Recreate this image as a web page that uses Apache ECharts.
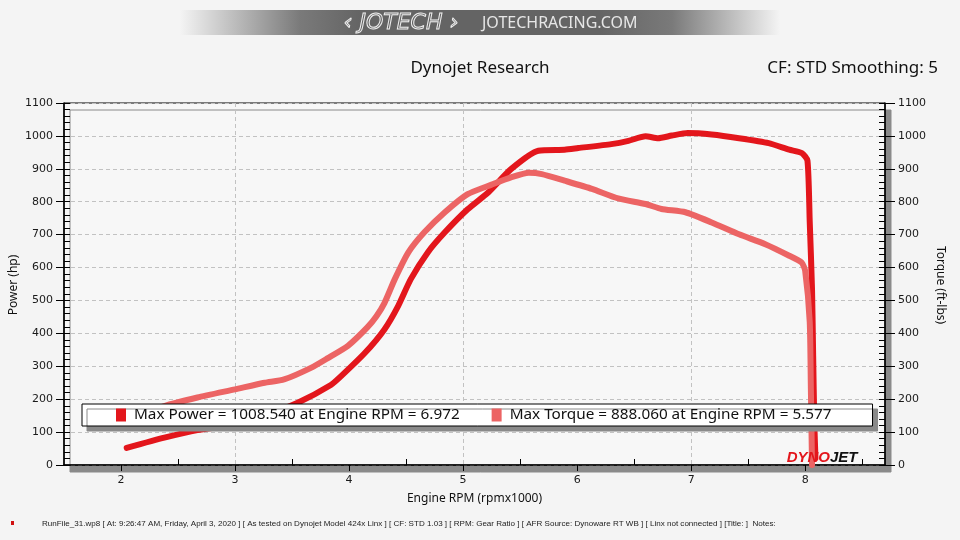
<!DOCTYPE html>
<html>
<head>
<meta charset="utf-8">
<script src="https://cdn.jsdelivr.net/npm/echarts@6/dist/echarts.min.js"></script>
<style>
html,body{margin:0;padding:0;background:#f4f4f4;}
#chart{width:960px;height:540px;}
</style>
</head>
<body>
<div id="chart"></div>
<script>
// ---- data ----
const powerRpm = [2.05, 2.38, 2.67, 3.0, 3.25, 3.55, 3.84, 3.93, 4.14, 4.31, 4.43, 4.54, 4.69, 4.84, 5.04, 5.22, 5.42, 5.66, 5.89, 6.01, 6.3, 6.45, 6.6, 6.71, 6.83, 6.97, 7.18, 7.42, 7.68, 7.86, 7.97, 8.02, 8.04, 8.06, 8.07, 8.08, 8.09];
const powerHp  = [52, 83, 106, 123, 149, 189, 243, 270, 341, 412, 483, 564, 646, 707, 777, 828, 899, 955, 958, 963, 975, 985, 999, 993, 1001, 1008.5, 1004, 993, 978, 958, 948, 925, 738, 534, 331, 129, 20];
const torqueRpm = [2.05, 2.38, 2.67, 3.0, 3.26, 3.43, 3.67, 3.81, 3.99, 4.16, 4.24, 4.31, 4.40, 4.52, 4.66, 4.84, 5.04, 5.25, 5.42, 5.577, 5.69, 5.89, 6.13, 6.36, 6.6, 6.74, 6.95, 7.18, 7.42, 7.65, 7.86, 7.97, 8.0, 8.04, 8.05, 8.06];
const torqueFt  = [135, 179, 205, 230, 250, 260, 296, 324, 362, 418, 452, 492, 564, 646, 707, 768, 823, 852, 874, 888, 884, 864, 839, 810, 793, 778, 768, 737, 701, 671, 636, 615, 590, 434, 230, 0];

const xLabelTicks = [2, 3, 4, 5, 6, 7, 8];
const xHalfTicks = [2.5, 3.5, 4.5, 5.5, 6.5, 7.5, 8.5];
const xMin = 1.5, xMax = 8.7;
const yMin = 0, yMax = 1100, yStep = 100, yMinorStep = 20;

const maxPower = '1008.540', maxPowerRpm = '6.972';
const maxTorque = '888.060', maxTorqueRpm = '5.577';
const titleText = 'Dynojet Research';
const cfText = 'CF: STD Smoothing: 5';
const xName = 'Engine RPM (rpmx1000)';
const yLeftName = 'Power (hp)';
const yRightName = 'Torque (ft-lbs)';
const bannerSite = 'JOTECHRACING.COM';
const footerText = 'RunFile_31.wp8 [ At: 9:26:47 AM, Friday, April 3, 2020 ] [ As tested on Dynojet Model 424x Linx ] [ CF: STD 1.03 ] [ RPM: Gear Ratio ] [ AFR Source: Dynoware RT WB ] [ Linx not connected ] [Title: ]  Notes:';

const zip = (a, b) => a.map((v, i) => [v, b[i]]);
const POWER_C = '#e3161c', TORQUE_C = '#ec6464';
const FONT = 'Noto Sans';

const legendNames = {
  'Power': 'Max Power = ' + maxPower + ' at Engine RPM = ' + maxPowerRpm,
  'Torque': 'Max Torque = ' + maxTorque + ' at Engine RPM = ' + maxTorqueRpm
};

const chart = echarts.init(document.getElementById('chart'));
const gridLine = {color: '#c2c2c2', type: [4, 3], width: 1};
const lbl = {color: '#1a1a1a', fontFamily: 'DejaVu Sans', fontSize: 11, formatter: v => String(v)};

chart.setOption({
  backgroundColor: '#f4f4f4',
  animation: false,
  title: [
    {text: titleText, left: 'center', top: 55, textStyle: {fontFamily: FONT, fontSize: 17, fontWeight: 'normal', color: '#111'}},
    {text: cfText, right: 17, top: 55, textStyle: {fontFamily: FONT, fontSize: 17, fontWeight: 'normal', color: '#111'}}
  ],
  grid: {
    left: 64, right: 75, top: 103, bottom: 75,
    outerBoundsMode: 'none', containLabel: false,
    show: true, backgroundColor: '#f7f7f7', borderColor: '#000', borderWidth: 1,
    shadowColor: '#8a8a8a', shadowBlur: 0, shadowOffsetX: 6, shadowOffsetY: 7
  },
  legend: {
    left: 82, top: 404,
    data: ['Power', 'Torque'],
    formatter: n => legendNames[n],
    icon: 'rect', itemWidth: 10, itemHeight: 13, itemGap: 32,
    padding: [2, 41, 2, 34],
    backgroundColor: '#ffffff', borderColor: '#000', borderWidth: 1,
    shadowColor: '#8a8a8a', shadowBlur: 0, shadowOffsetX: 5, shadowOffsetY: 5,
    textStyle: {fontFamily: FONT, fontSize: 15.3, color: '#111', lineHeight: 18, padding: [0, 0, 0, 3]},
    selectedMode: false, z: 10
  },
  xAxis: [
    {
      type: 'value', min: xMin, max: xMax, interval: 0.5, position: 'bottom',
      name: xName, nameLocation: 'middle', nameGap: 28,
      nameTextStyle: {fontFamily: FONT, fontSize: 12, color: '#111'},
      axisLine: {show: true, onZero: false, lineStyle: {color: '#000', width: 1.5}},
      axisTick: {show: true, customValues: xLabelTicks, length: 6, lineStyle: {color: '#000'}},
      axisLabel: Object.assign({}, lbl, {customValues: xLabelTicks, margin: 10, formatter: v => Number.isInteger(v) ? String(v) : ''}),
      splitLine: {show: true, lineStyle: Object.assign({}, gridLine, {color: ['rgba(0,0,0,0)', '#c2c2c2']})}
    },
    {
      type: 'value', min: xMin, max: xMax, interval: 0.5, position: 'bottom',
      axisLine: {show: false, onZero: false},
      axisTick: {show: true, inside: true, customValues: xHalfTicks, length: 6, lineStyle: {color: '#000'}},
      axisLabel: {show: false}, splitLine: {show: false}
    }
  ],
  yAxis: [
    {
      type: 'value', min: yMin, max: yMax, interval: yStep, position: 'left',
      axisLine: {show: true, lineStyle: {color: '#000', width: 1.5}},
      axisTick: {show: true, length: 8, lineStyle: {color: '#000'}},
      axisLabel: Object.assign({margin: 11}, lbl),
      splitLine: {show: true, lineStyle: gridLine}
    },
    {
      type: 'value', min: yMin, max: yMax, interval: yStep, position: 'right',
      axisLine: {show: true, lineStyle: {color: '#000', width: 1.5}},
      axisTick: {show: true, length: 10, lineStyle: {color: '#000'}},
      axisLabel: Object.assign({margin: 13}, lbl),
      splitLine: {show: false}
    },
    {
      type: 'value', min: yMin, max: yMax, interval: yMinorStep, position: 'left', offset: 0,
      axisLine: {show: false}, axisTick: {show: true, inside: true, length: 6, lineStyle: {color: '#000'}},
      axisLabel: {show: false}, splitLine: {show: false}
    },
    {
      type: 'value', min: yMin, max: yMax, interval: yMinorStep, position: 'right', offset: 0,
      axisLine: {show: false}, axisTick: {show: true, inside: true, length: 6, lineStyle: {color: '#000'}},
      axisLabel: {show: false}, splitLine: {show: false}
    }
  ],
  series: [
    {
      name: 'Power', type: 'line', xAxisIndex: 0, yAxisIndex: 0,
      data: zip(powerRpm, powerHp), symbol: 'none', smooth: 0.2, z: 3,
      color: POWER_C, lineStyle: {width: 6, color: POWER_C, cap: 'round', join: 'round'}
    },
    {
      name: 'Torque', type: 'line', xAxisIndex: 0, yAxisIndex: 1,
      data: zip(torqueRpm, torqueFt), symbol: 'none', smooth: 0.2, z: 4,
      color: TORQUE_C, lineStyle: {width: 6, color: TORQUE_C, cap: 'round', join: 'round'}
    }
  ],
  graphic: [
    {
      type: 'rect', shape: {x: 180, y: 10, width: 600, height: 25}, silent: true,
      style: {fill: {type: 'linear', x: 0, y: 0, x2: 1, y2: 0, colorStops: [
        {offset: 0, color: '#f4f4f4'}, {offset: 0.2, color: '#7a7a7a'}, {offset: 0.3, color: '#646464'},
        {offset: 0.7, color: '#646464'}, {offset: 0.82, color: '#7a7a7a'}, {offset: 1, color: '#f4f4f4'}]}}
    },
    {
      type: 'text', x: 401, y: 23, silent: true,
      style: {text: '‹ JOTECH ›', font: 'italic 22px "DejaVu Sans"', fill: 'rgba(0,0,0,0)', stroke: '#eeeeee', lineWidth: 1, align: 'center', verticalAlign: 'middle'}
    },
    {
      type: 'text', x: 482, y: 23, silent: true,
      style: {text: bannerSite, font: '16px "Noto Sans"', fill: '#e6e6e6', align: 'left', verticalAlign: 'middle'}
    },
    {
      type: 'text', x: 14, y: 285, rotation: Math.PI / 2, silent: true,
      style: {text: yLeftName, font: '12px "Noto Sans"', fill: '#111', align: 'center', verticalAlign: 'middle'}
    },
    {
      type: 'text', x: 940, y: 285, rotation: -Math.PI / 2, silent: true,
      style: {text: yRightName, font: '12px "Noto Sans"', fill: '#111', align: 'center', verticalAlign: 'middle'}
    },
    {
      type: 'text', x: 830, y: 458, silent: true, z: 5,
      style: {text: 'DYNO', font: 'italic 900 15px "Liberation Sans"', fill: POWER_C, align: 'right', verticalAlign: 'middle'}
    },
    {
      type: 'text', x: 830, y: 458, silent: true, z: 5,
      style: {text: 'JET', font: 'italic 900 15px "Liberation Sans"', fill: '#111', align: 'left', verticalAlign: 'middle'}
    },
    {
      type: 'rect', shape: {x: 11, y: 521, width: 3, height: 4}, silent: true, style: {fill: '#d01010'}
    },
    {
      type: 'text', x: 42, y: 524, silent: true,
      style: {text: footerText, font: '8.05px "Liberation Sans"', fill: '#222', align: 'left', verticalAlign: 'middle'}
    }
  ]
});
</script>
</body>
</html>
